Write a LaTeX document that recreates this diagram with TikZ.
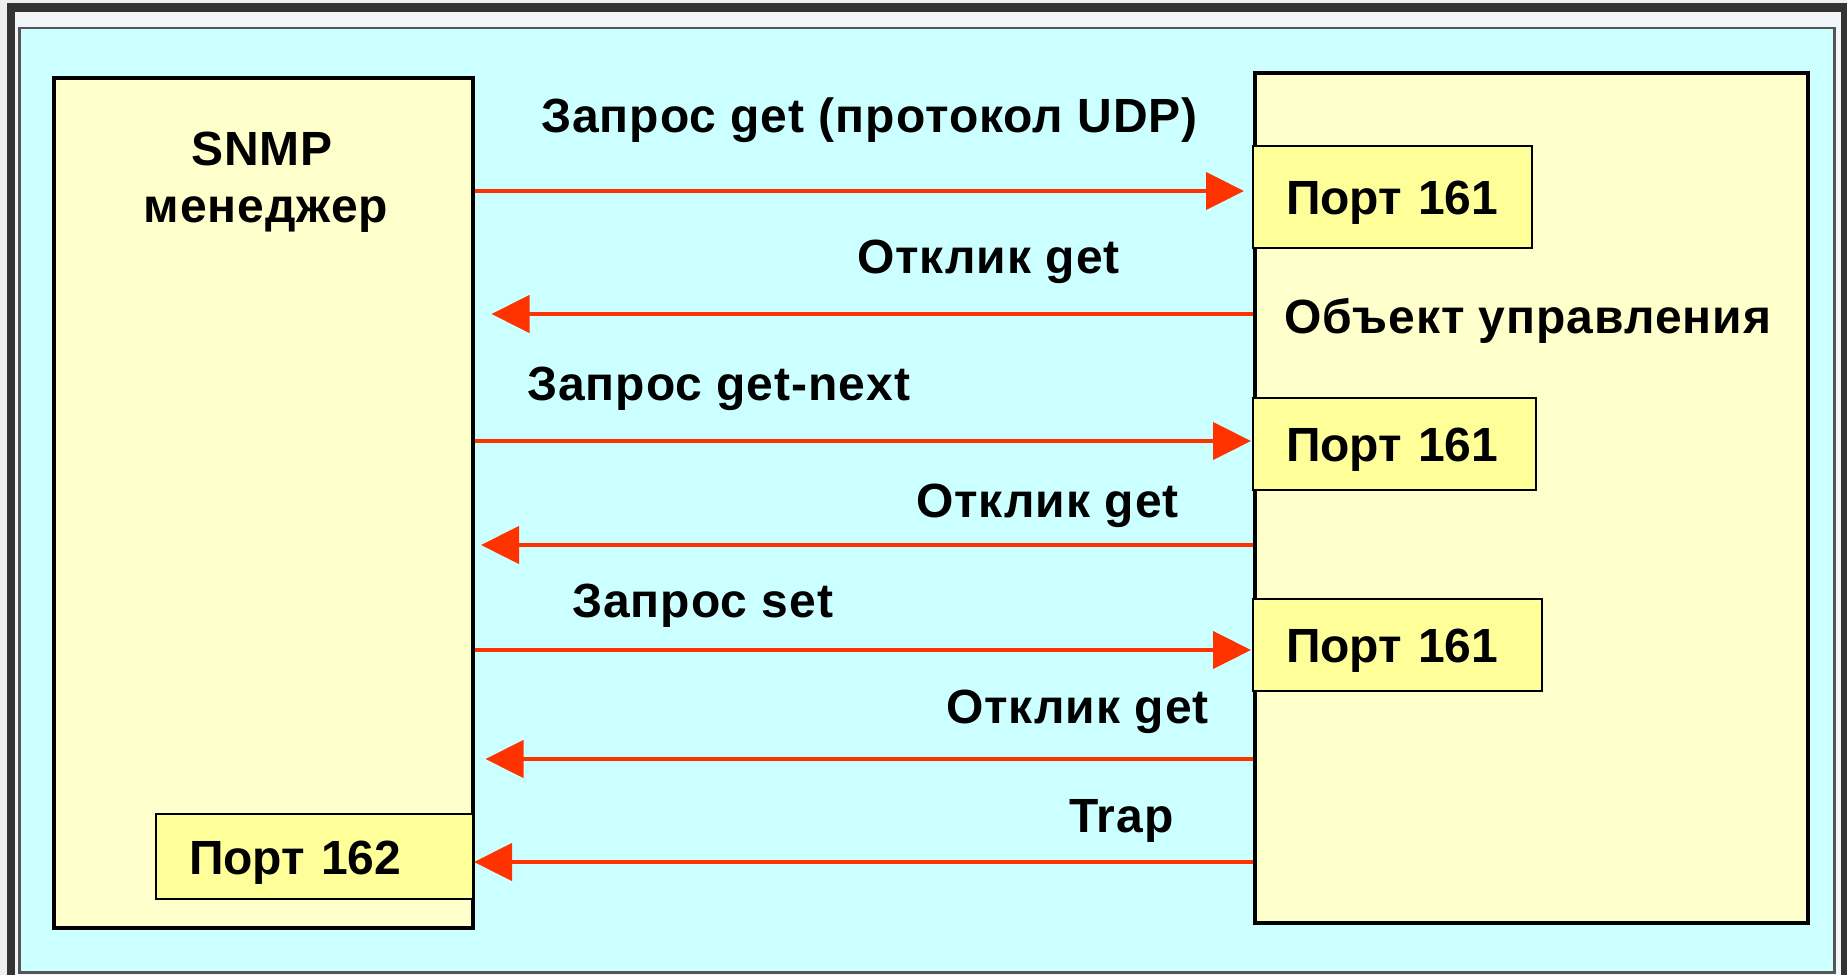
\documentclass[tikz,border=0pt]{standalone}
\usepackage{fontspec}
\setmainfont{Liberation Sans}
\newfontfamily\spacedfont[LetterSpace=2.0]{Liberation Sans}
\usetikzlibrary{arrows.meta}

\definecolor{framedark}{HTML}{333333}
\definecolor{framelight}{HTML}{F3F6F8}
\definecolor{outerbg}{HTML}{EEEEEE}
\definecolor{panelcyan}{HTML}{CCFFFF}
\definecolor{panelline}{HTML}{555555}
\definecolor{boxyellow}{HTML}{FFFFCC}
\definecolor{portyellow}{HTML}{FFFF99}
\definecolor{arrowred}{HTML}{FF3300}

\tikzset{
  mainbox/.style={draw=black, fill=boxyellow, line width=4.5pt, anchor=north west, inner sep=0pt},
  portbox/.style={draw=black, fill=portyellow, line width=2pt, anchor=north west,
    inner xsep=33pt, inner ysep=0pt, align=left, text height=35pt, text depth=0pt,
    font=\fontsize{48pt}{56pt}\selectfont\bfseries},
  msg/.style={anchor=base west, inner sep=0pt, font=\spacedfont\fontsize{48pt}{56pt}\selectfont\bfseries},
  title/.style={anchor=base, inner sep=0pt, font=\spacedfont\fontsize{48pt}{56pt}\selectfont\bfseries},
  flow/.style={draw=arrowred, line width=4.5pt, -{Triangle[length=38pt,width=37pt]}},
}

\begin{document}
\begin{tikzpicture}[x=1pt, y=-1pt]
  \useasboundingbox (0,0) rectangle (1847,975);

  % window frame and panel
  \fill[outerbg] (0,0) rectangle (1847,975);
  \fill[framedark] (7,3) rectangle (1847,975);
  \fill[framelight] (15,12) rectangle (1841,975);
  \draw[fill=panelcyan, draw=panelline, line width=2.5pt] (19.5,28) rectangle (1834.5,972.5);

  % manager and agent
  \node[mainbox, minimum width=419pt, minimum height=850pt] (mgr) at (51.5,75.5) {};
  \node[mainbox, minimum width=553pt, minimum height=850pt] (agent) at (1252.5,70.5) {};

  % ports
  \node[portbox, text width=213pt, minimum height=102pt] (p1) at (1252,145) {Порт 161};
  \node[portbox, text width=217pt, minimum height=92pt] (p2) at (1252,397) {Порт 161};
  \node[portbox, text width=223pt, minimum height=92pt] (p3) at (1252,598) {Порт 161};
  \node[portbox, text width=251pt, minimum height=85pt] (p162) at (155,813) {Порт 162};

  % message levels
  \coordinate (y1) at (0,191);
  \coordinate (y2) at (0,314);
  \coordinate (y3) at (0,441);
  \coordinate (y4) at (0,545);
  \coordinate (y5) at (0,650);
  \coordinate (y6) at (0,759);
  \coordinate (y7) at (0,862);

  % messages
  \draw[flow, shorten >=8pt] (mgr.east |- y1) -- (p1.west |- y1);
  \draw[flow, shorten >=16.5pt] (agent.west |- y2) -- (mgr.east |- y2);
  \draw[flow, shorten >=1pt] (mgr.east |- y3) -- (p2.west |- y3);
  \draw[flow, shorten >=6pt] (agent.west |- y4) -- (mgr.east |- y4);
  \draw[flow, shorten >=1pt] (mgr.east |- y5) -- (p3.west |- y5);
  \draw[flow, shorten >=10.5pt] (agent.west |- y6) -- (mgr.east |- y6);
  \draw[flow] (agent.west |- y7) -- (p162.east |- y7);

  % labels
  \node[title] (snmp) at (262,165) {SNMP};
  \node[title] (mgrname) at (266,222) {менеджер};
  \node[msg] (agentname) at (1284,333) {Объект управления};
  \node[msg] (m1) at (541,132) {Запрос get (протокол UDP)};
  \node[msg] (m2) at (857,273) {Отклик get};
  \node[msg] (m3) at (527,400) {Запрос get-next};
  \node[msg] (m4) at (916,517) {Отклик get};
  \node[msg] (m5) at (572,617) {Запрос set};
  \node[msg] (m6) at (946,723) {Отклик get};
  \node[msg] (m7) at (1069,832) {Trap};
\end{tikzpicture}
\end{document}
